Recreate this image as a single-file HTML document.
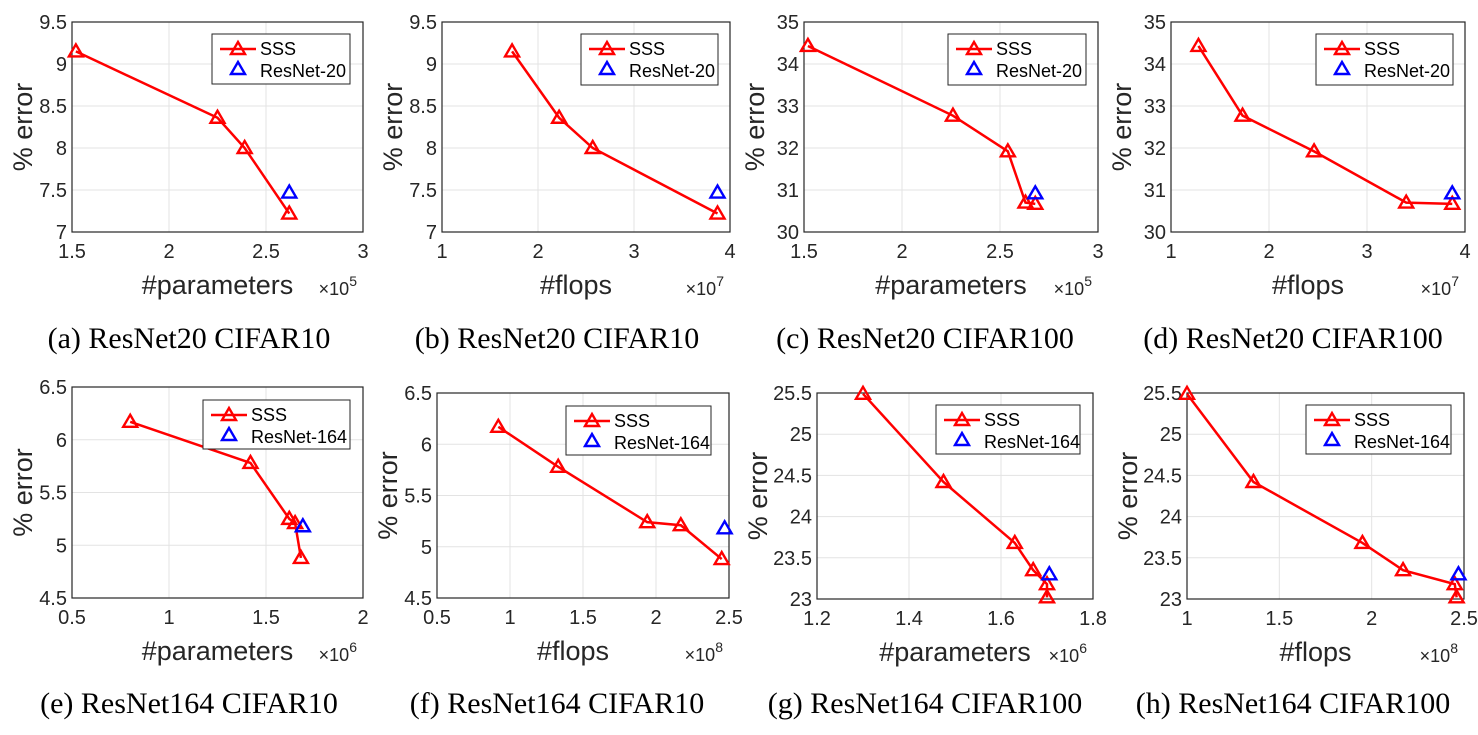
<!DOCTYPE html>
<html><head><meta charset="utf-8"><style>
body{margin:0;background:#fff;width:1478px;height:735px;overflow:hidden;font-family:"Liberation Sans",sans-serif}
svg{position:absolute;left:0;top:0}
</style></head><body>
<svg id="fig" width="1478" height="735"></svg>
<script>
const aX=[1.52,2.25,2.39,2.62], aY=[9.15,8.36,8.0,7.22], aR=[2.62,7.47];
const bX=[1.73,2.22,2.57,3.87], bY=[9.15,8.36,8.0,7.22], bR=[3.87,7.47];
const cX=[1.52,2.26,2.54,2.63,2.68], cY=[34.43,32.77,31.92,30.7,30.67], cR=[2.68,30.92];
const dX=[1.28,1.73,2.46,3.40,3.87], dY=[34.43,32.77,31.92,30.7,30.67], dR=[3.87,30.92];
const eX=[0.80,1.42,1.62,1.65,1.68], eY=[6.17,5.78,5.25,5.21,4.88], eR=[1.69,5.18];
const fX=[0.92,1.33,1.94,2.17,2.45], fY=[6.17,5.78,5.24,5.21,4.88], fR=[2.47,5.18];
const gX=[1.30,1.475,1.63,1.67,1.70,1.70], gY=[25.49,24.42,23.68,23.35,23.18,23.02], gR=[1.705,23.3];
const hX=[1.0,1.36,1.95,2.17,2.45,2.46], hY=[25.49,24.42,23.68,23.35,23.18,23.02], hR=[2.47,23.3];
const xTicksA=["1.5","2","2.5","3"], yTicksA=["7","7.5","8","8.5","9","9.5"];
const xTicksB=["1","2","3","4"];
const yTicksC=["30","31","32","33","34","35"];
const xTicksE=["0.5","1","1.5","2"], yTicksE=["4.5","5","5.5","6","6.5"];
const xTicksF=["0.5","1","1.5","2","2.5"];
const xTicksG=["1.2","1.4","1.6","1.8"], yTicksG=["23","23.5","24","24.5","25","25.5"];
const xTicksH=["1","1.5","2","2.5"];
const captions=["(a)  ResNet20 CIFAR10","(b)  ResNet20 CIFAR10","(c)  ResNet20 CIFAR100","(d)  ResNet20 CIFAR100","(e)  ResNet164 CIFAR10","(f)  ResNet164 CIFAR10","(g)  ResNet164 CIFAR100","(h)  ResNet164 CIFAR100"];

const panels=[
 {id:"a",x:aX,y:aY,r:aR,xt:xTicksA,yt:yTicksA,box:[72,22,363,232],leg:[212,34,350,84],xl:"#parameters",ex:"5",ref:"ResNet-20"},
 {id:"b",x:bX,y:bY,r:bR,xt:xTicksB,yt:yTicksA,box:[442,22,730,232],leg:[581,34,718,85],xl:"#flops",ex:"7",ref:"ResNet-20"},
 {id:"c",x:cX,y:cY,r:cR,xt:xTicksA,yt:yTicksC,box:[804,22,1098,232],leg:[948,34,1086,85],xl:"#parameters",ex:"5",ref:"ResNet-20"},
 {id:"d",x:dX,y:dY,r:dR,xt:xTicksB,yt:yTicksC,box:[1171,22,1465,232],leg:[1316,34,1453,85],xl:"#flops",ex:"7",ref:"ResNet-20"},
 {id:"e",x:eX,y:eY,r:eR,xt:xTicksE,yt:yTicksE,box:[72,387,363,598],leg:[203,400,350,449],xl:"#parameters",ex:"6",ref:"ResNet-164"},
 {id:"f",x:fX,y:fY,r:fR,xt:xTicksF,yt:yTicksE,box:[437,393,729,598],leg:[566,406,711,455],xl:"#flops",ex:"8",ref:"ResNet-164"},
 {id:"g",x:gX,y:gY,r:gR,xt:xTicksG,yt:yTicksG,box:[817,393,1093,599],leg:[936,405,1080,454],xl:"#parameters",ex:"6",ref:"ResNet-164"},
 {id:"h",x:hX,y:hY,r:hR,xt:xTicksH,yt:yTicksG,box:[1187,393,1464,599],leg:[1306,405,1451,454],xl:"#flops",ex:"8",ref:"ResNet-164"}
];
const NS="http://www.w3.org/2000/svg";
const svg=document.getElementById("fig");
function mk(tag,attrs,parent,text){const e=document.createElementNS(NS,tag);for(const k in attrs)e.setAttribute(k,attrs[k]);if(text!==undefined)e.textContent=text;(parent||svg).appendChild(e);return e;}
function tri(g,cx,cy,col){return mk("polygon",{points:`${cx},${cy-7} ${cx-7},${cy+5} ${cx+7},${cy+5}`,fill:"none",stroke:col,"stroke-width":2.4},g);}
panels.forEach((p,i)=>{
 const g=mk("g",{});
 
 
 const [x0,y0,x1,y1]=p.box;
 const xmin=+p.xt[0],xmax=+p.xt[p.xt.length-1],ymin=+p.yt[0],ymax=+p.yt[p.yt.length-1];
 const sx=v=>x0+(v-xmin)/(xmax-xmin)*(x1-x0);
 const sy=v=>y1-(v-ymin)/(ymax-ymin)*(y1-y0);
 p.xt.forEach(t=>{const X=sx(+t);
  mk("line",{x1:X,x2:X,y1:y0,y2:y1,stroke:"#e3e3e3","stroke-width":1},g);
  const tl=mk("text",{x:X,y:y1+26,"text-anchor":"middle","font-size":20,fill:"#262626"},g,t);
  
  
 });
 p.yt.forEach(t=>{const Y=sy(+t);
  mk("line",{x1:x0,x2:x1,y1:Y,y2:Y,stroke:"#e3e3e3","stroke-width":1},g);
  const tl=mk("text",{x:x0-5,y:Y+7,"text-anchor":"end","font-size":20,fill:"#262626"},g,t);
  
  
 });
 mk("rect",{x:x0,y:y0,width:x1-x0,height:y1-y0,fill:"none",stroke:"#262626","stroke-width":1.2},g);
 const pts=p.x.map((v,k)=>sx(v)+","+sy(p.y[k])).join(" ");
 const line=mk("polyline",{points:pts,fill:"none",stroke:"#ff0000","stroke-width":2.5},g);
 
 
 p.x.forEach((v,k)=>{const m=tri(g,sx(v),sy(p.y[k]),"#ff0000");
  
  });
 const rm=tri(g,sx(p.r[0]),sy(p.r[1]),"#0000ff");
 
 
 const [lx0,ly0,lx1,ly1]=p.leg;
 const lg=mk("g",{},g);
 
 
 mk("rect",{x:lx0,y:ly0,width:lx1-lx0,height:ly1-ly0,fill:"#fff",stroke:"#262626","stroke-width":1},lg);
 const r1=ly0+15,r2=ly0+37;
 mk("line",{x1:lx0+8,x2:lx0+44,y1:r1,y2:r1,stroke:"#ff0000","stroke-width":2.5},lg);
 tri(lg,lx0+26,r1,"#ff0000");
 mk("text",{x:lx0+48,y:r1+6,"font-size":18,fill:"#000"},lg,"SSS");
 tri(lg,lx0+26,r2-2,"#0000ff");
 mk("text",{x:lx0+48,y:r2+6,"font-size":18,fill:"#000"},lg,p.ref);
 const xl=mk("text",{x:(x0+x1)/2+(p.xl=="#flops"?-10:0),y:y1+62,"text-anchor":"middle","font-size":27,fill:"#262626"},g,p.xl);
 
 
 const ex=mk("text",{x:x1-6,y:y1+63,"text-anchor":"end","font-size":18,fill:"#262626"},g,"×10");
 mk("tspan",{dy:-9,"font-size":14},ex,p.ex);
 const ylx=x0-(p.id=="g"||p.id=="h"?50:40), yly=(y0+y1)/2;
 const yl=mk("text",{x:ylx,y:yly,"text-anchor":"middle","font-size":27,fill:"#262626",transform:`rotate(-90 ${ylx} ${yly})`},g,"% error");
 
 
 const cx=[189,557,925,1293][i%4], cy=i<4?348:713;
 const cap=mk("text",{x:cx,y:cy,"text-anchor":"middle","font-size":30,"font-family":"Liberation Serif, serif",fill:"#000"},g,captions[i]);
 
 
});
</script>
</body></html>
